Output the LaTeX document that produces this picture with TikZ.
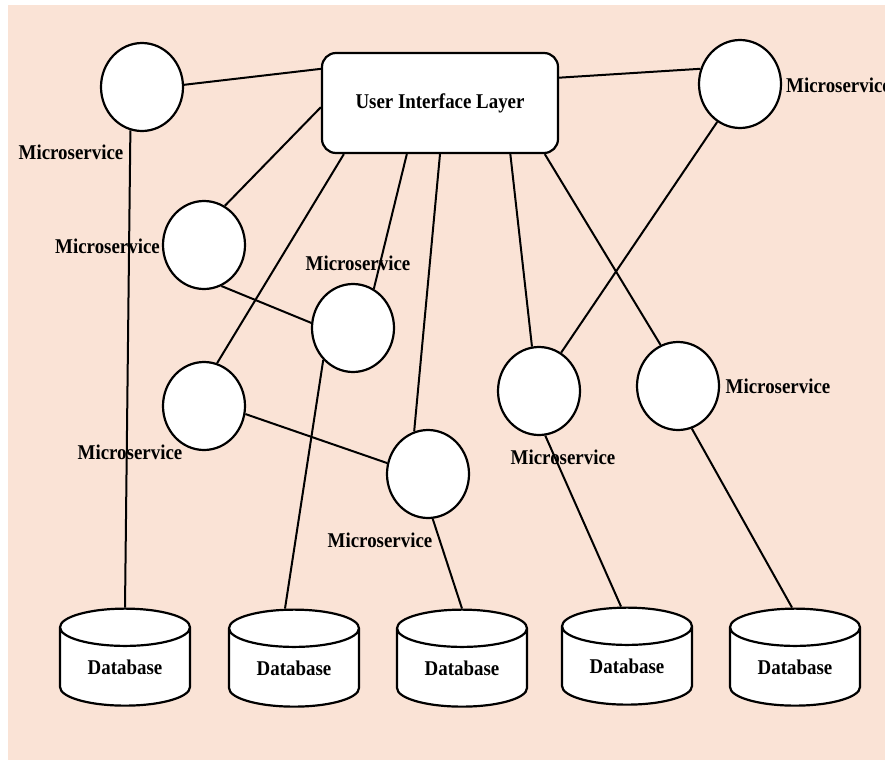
\documentclass[tikz,border=0pt]{standalone}
\usepackage{fontspec}
\setmainfont{Liberation Serif}[FakeStretch=0.9]
\usetikzlibrary{shapes.geometric}

\definecolor{peach}{RGB}{250,227,214}

\tikzset{
	service/.style={ellipse, draw, line width=2.2pt, fill=white,
					minimum width=82pt, minimum height=88pt, inner sep=0pt},
	dbase/.style={cylinder, shape border rotate=90, aspect=0.5, draw,
				  line width=2.2pt, fill=white, minimum width=130pt,
				  minimum height=97pt, inner sep=0pt,
				  font=\bfseries\fontsize{21}{24}\selectfont},
	lbl/.style={inner sep=0pt, font=\bfseries\fontsize{21}{24}\selectfont},
	conn/.style={line width=2pt}
}

\begin{document}
\begin{tikzpicture}[x=1pt, y=-1pt]
		\fill[white] (0,0) rectangle (885,760);
		\fill[peach] (8,5) rectangle (885,760);
		\useasboundingbox (0,0) rectangle (885,760);

		\node[draw, rounded corners=14pt, line width=2.2pt, fill=white,
			  minimum width=236pt, minimum height=100pt,
			  font=\bfseries\fontsize{21}{24}\selectfont] (ui) at (440,103) {User Interface Layer};

		\node[service] (ms1) at (142,87) {};
		\node[service] (ms2) at (740,84) {};
		\node[service] (ms3) at (204,245) {};
		\node[service] (ms4) at (353,328) {};
		\node[service] (ms5) at (204,406) {};
		\node[service] (ms6) at (428,474) {};
		\node[service] (ms7) at (539,391) {};
		\node[service] (ms8) at (678,386) {};

		\node[dbase] (db1) at (125,667) {Database};
		\node[dbase] (db2) at (294,668) {Database};
		\node[dbase] (db3) at (462,668) {Database};
		\node[dbase] (db4) at (627,666) {Database};
		\node[dbase] (db5) at (795,667) {Database};

		\node[lbl] (lbl1) at (71,152) {Microservice};
		\node[lbl, anchor=west] (lbl2) at (786,85) {Microservice};
		\node[lbl, anchor=east] (lbl3) at (160,246) {Microservice};
		\node[lbl] (lbl4) at (358,263) {Microservice};
		\node[lbl] (lbl5) at (130,452) {Microservice};
		\node[lbl] (lbl6) at (380,540) {Microservice};
		\node[lbl] (lbl7) at (563,457) {Microservice};
		\node[lbl] (lbl8) at (778,386) {Microservice};

		\draw[conn] (ms1.3) -- (ui.164);
		\draw[conn] (ms1.255) -- (db1.north);
		\draw[conn] (ui.12) -- (ms2.159);
		\draw[conn] (ms2.239) -- (ms7.60);
		\draw[conn] (ui.182) -- (ms3.62);
		\draw[conn] (ui.208) -- (ms5.73);
		\draw[conn] (ui.237) -- (ms4.62);
		\draw[conn] (ui.south) -- (ms6.108);
		\draw[conn] (ui.324) -- (ms7.99);
		\draw[conn] (ui.334) -- (ms8.113);
		\draw[conn] (ms3.293) -- (ms4.173);
		\draw[conn] (ms5.349) -- (ms6.165);
		\draw[conn] (ms4.227) -- ([xshift=-9pt]db2.north);
		\draw[conn] (ms6.276) -- (db3.north);
		\draw[conn] (ms7.278) -- ([xshift=-6pt]db4.north);
		\draw[conn] (ms8.288) -- ([xshift=-3pt]db5.north);
	\end{tikzpicture}
\end{document}
